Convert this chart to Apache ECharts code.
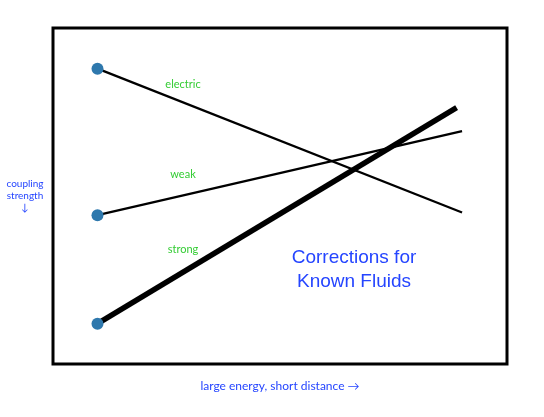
<!DOCTYPE html>
<html>
<head>
<meta charset="utf-8">
<script src="https://cdn.jsdelivr.net/npm/echarts@6/dist/echarts.min.js"></script>
<style>
  html, body { margin: 0; padding: 0; background: #fff; }
  #chart { width: 544px; height: 417px; }
</style>
</head>
<body>
<div id="chart"></div>
<script>
// x: energy (0 = low, 100 = high); y: coupling strength (0 at bottom)
var electricX = [9.8, 90.1];
var electricY = [87.9, 45.1];
var weakX = [9.8, 90.1];
var weakY = [44.3, 69.3];
var strongX = [9.8, 88.9];
var strongY = [12.0, 76.3];

var blue = '#2545ff';
var green = '#33cc33';

function pts(xs, ys) {
  return xs.map(function (x, i) {
    // dot only at the left end
    return { value: [x, ys[i]], symbol: i === 0 ? 'circle' : 'none' };
  });
}

function lineSeries(name, xs, ys, width) {
  return {
    name: name,
    type: 'line',
    data: pts(xs, ys),
    symbolSize: 12,
    showSymbol: true,
    z: 3,
    lineStyle: { color: '#000', width: width },
    itemStyle: { color: '#2e78ad', borderWidth: 0 },
    emphasis: { disabled: true }
  };
}

var myChart = echarts.init(document.getElementById('chart'));
var option = {
  animation: false,
  grid: {
    left: 53, top: 28, width: 454, height: 336,
    show: true, borderColor: '#000', borderWidth: 3, backgroundColor: '#fff'
  },
  xAxis: {
    type: 'value', min: 0, max: 100,
    name: 'large energy, short distance \u2192',
    nameLocation: 'middle', nameGap: 16,
    nameTextStyle: { color: blue, fontSize: 12, fontFamily: 'Lato' },
    axisLine: { show: false }, axisTick: { show: false },
    axisLabel: { show: false }, splitLine: { show: false }
  },
  yAxis: {
    type: 'value', min: 0, max: 100,
    name: 'coupling\nstrength\n\u2193',
    nameLocation: 'middle', nameRotate: 0, nameGap: 28,
    nameTextStyle: { color: blue, fontSize: 10, fontFamily: 'Lato', lineHeight: 12, align: 'center' },
    axisLine: { show: false }, axisTick: { show: false },
    axisLabel: { show: false }, splitLine: { show: false }
  },
  graphic: [
    { type: 'text', x: 183, y: 84, style: { text: 'electric', fill: green, font: '11px Lato', align: 'center', verticalAlign: 'middle' } },
    { type: 'text', x: 183, y: 174, style: { text: 'weak', fill: green, font: '11px Lato', align: 'center', verticalAlign: 'middle' } },
    { type: 'text', x: 183, y: 249, style: { text: 'strong', fill: green, font: '11px Lato', align: 'center', verticalAlign: 'middle' } },
    { type: 'text', x: 354, y: 270, style: { text: 'Corrections for\nKnown Fluids', fill: blue, font: '19px "Liberation Sans"', lineHeight: 23.5, align: 'center', verticalAlign: 'middle' } }
  ],
  series: [
    lineSeries('electric', electricX, electricY, 2.3),
    lineSeries('weak', weakX, weakY, 2.3),
    lineSeries('strong', strongX, strongY, 5.5)
  ]
};
myChart.setOption(option);
</script>
</body>
</html>
